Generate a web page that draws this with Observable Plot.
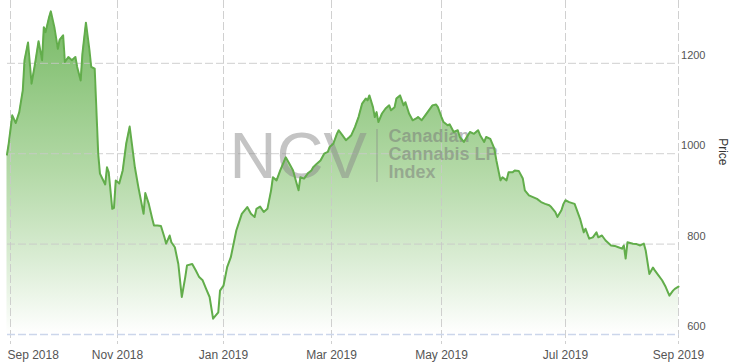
<!DOCTYPE html>
<html>
<head>
<meta charset="utf-8">
<script src="https://cdn.jsdelivr.net/npm/d3@7"></script>
<script src="https://cdn.jsdelivr.net/npm/@observablehq/plot@0.6"></script>
<style>
  html, body { margin: 0; padding: 0; background: #fff; }
  #chart svg { display: block; }
</style>
</head>
<body>
<div id="chart"></div>
<script>
// ---- Data ----
const dates = [
  "2018-08-30","2018-08-31","2018-09-02","2018-09-04","2018-09-06","2018-09-08","2018-09-09","2018-09-11","2018-09-13","2018-09-15",
  "2018-09-17","2018-09-19","2018-09-20","2018-09-21","2018-09-23","2018-09-24","2018-09-26","2018-09-28","2018-09-29","2018-10-01",
  "2018-10-02","2018-10-04","2018-10-06","2018-10-08","2018-10-09","2018-10-11","2018-10-12","2018-10-14","2018-10-16","2018-10-17",
  "2018-10-19","2018-10-21","2018-10-22","2018-10-25","2018-10-26","2018-10-27","2018-10-29","2018-10-30","2018-10-31","2018-11-02",
  "2018-11-04","2018-11-06","2018-11-08","2018-11-09","2018-11-11","2018-11-13","2018-11-16","2018-11-17","2018-11-19","2018-11-21",
  "2018-11-22","2018-11-24","2018-11-26","2018-11-28","2018-11-29","2018-12-01","2018-12-02","2018-12-04","2018-12-06","2018-12-08",
  "2018-12-10","2018-12-11","2018-12-14","2018-12-16","2018-12-18","2018-12-20","2018-12-22","2018-12-24","2018-12-26","2018-12-29",
  "2018-12-30","2019-01-01","2019-01-03","2019-01-05","2019-01-08","2019-01-11","2019-01-14","2019-01-16","2019-01-18","2019-01-19",
  "2019-01-21","2019-01-23","2019-01-25","2019-01-27","2019-01-28","2019-01-30","2019-02-01","2019-02-04","2019-02-06","2019-02-08",
  "2019-02-09","2019-02-11","2019-02-12","2019-02-14","2019-02-16","2019-02-18","2019-02-19","2019-02-21","2019-02-23","2019-02-25",
  "2019-02-27","2019-02-28","2019-03-02","2019-03-04","2019-03-05","2019-03-07","2019-03-09","2019-03-11","2019-03-12","2019-03-14",
  "2019-03-16","2019-03-18","2019-03-20","2019-03-21","2019-03-22","2019-03-24","2019-03-25","2019-03-26","2019-03-27","2019-03-29",
  "2019-03-31","2019-04-02","2019-04-03","2019-04-05","2019-04-06","2019-04-08","2019-04-10","2019-04-11","2019-04-13","2019-04-15",
  "2019-04-17","2019-04-18","2019-04-20","2019-04-22","2019-04-24","2019-04-26","2019-04-28","2019-04-29","2019-05-01","2019-05-02",
  "2019-05-04","2019-05-05","2019-05-07","2019-05-09","2019-05-10","2019-05-12","2019-05-14","2019-05-15","2019-05-17","2019-05-19",
  "2019-05-20","2019-05-22","2019-05-23","2019-05-25","2019-05-27","2019-05-28","2019-05-30","2019-05-31","2019-06-02","2019-06-03",
  "2019-06-05","2019-06-06","2019-06-08","2019-06-10","2019-06-11","2019-06-13","2019-06-15","2019-06-17","2019-06-19","2019-06-21",
  "2019-06-23","2019-06-24","2019-06-26","2019-06-27","2019-06-29","2019-06-30","2019-07-01","2019-07-03","2019-07-06","2019-07-07",
  "2019-07-09","2019-07-11","2019-07-12","2019-07-14","2019-07-16","2019-07-18","2019-07-19","2019-07-21","2019-07-23","2019-07-26",
  "2019-07-28","2019-07-30","2019-08-01","2019-08-02","2019-08-03","2019-08-04","2019-08-07","2019-08-09","2019-08-11","2019-08-13",
  "2019-08-14","2019-08-16","2019-08-18","2019-08-19","2019-08-21","2019-08-23","2019-08-25","2019-08-27","2019-08-29","2019-08-30",
  "2019-09-01"
];
const prices = [
  998,1023,1085,1068,1092,1140,1207,1246,1155,1199,
  1249,1207,1280,1269,1302,1315,1280,1232,1252,1262,
  1203,1214,1207,1214,1192,1162,1221,1290,1229,1192,
  1188,1000,956,932,970,959,878,880,941,934,
  963,1022,1060,1030,970,926,867,913,889,856,
  841,841,840,815,801,819,804,793,756,683,
  727,753,756,742,727,720,701,683,635,649,
  697,708,749,771,830,867,882,867,860,878,
  883,871,878,919,948,941,963,992,978,963,
  948,919,948,945,956,963,970,978,985,1000,
  1004,1015,1022,1044,1052,1041,1030,1037,1041,1059,
  1081,1111,1122,1118,1129,1103,1081,1092,1070,1089,
  1100,1107,1096,1103,1122,1129,1107,1114,1089,1074,
  1078,1081,1074,1085,1096,1107,1109,1103,1081,1070,
  1063,1065,1048,1052,1037,1026,1041,1048,1044,1052,
  1041,1026,1037,1033,1011,985,941,948,941,959,
  959,963,962,945,919,908,904,900,893,889,
  886,882,871,860,875,889,897,893,889,878,
  856,826,834,812,815,826,815,819,808,797,
  796,793,790,797,768,804,801,800,797,801,
  786,734,748,742,731,720,705,686,697,701,
  706
];
const tickDates = ["2018-09-01","2018-11-01","2019-01-01","2019-03-01","2019-05-01","2019-07-01","2019-09-01"];
const tickLabels = ["Sep 2018","Nov 2018","Jan 2019","Mar 2019","May 2019","Jul 2019","Sep 2019"];
const yTicks = [600, 800, 1000, 1200];
const yTitle = "Price";
const logoText = "NCV";
const logoLines = ["Canadian", "Cannabis LP", "Index"];

// ---- Build tables ----
const data = dates.map((d, i) => ({date: new Date(d), price: prices[i]}));
const ticks = tickDates.map((d, i) => ({date: new Date(d), label: tickLabels[i]}));
const logoName = logoLines.join("\n");

const W = 737, H = 363;
const font = "'Liberation Sans', Arial, Helvetica, sans-serif";

// gradient defs (decoration)
const decor = (index, scales, values, dims) => {
  const ns = "http://www.w3.org/2000/svg";
  const g = document.createElementNS(ns, "g");
  const defs = document.createElementNS(ns, "defs");
  const lg = document.createElementNS(ns, "linearGradient");
  lg.setAttribute("id", "ncvGrad");
  lg.setAttribute("gradientUnits", "userSpaceOnUse");
  lg.setAttribute("x1", 0); lg.setAttribute("x2", 0);
  lg.setAttribute("y1", dims.marginTop);
  lg.setAttribute("y2", scales.y ? scales.y(600) : 334);
  [[0, "#6ab356", 0.95], [0.5, "#a9d49b", 0.9], [1, "#ffffff", 1]].forEach(([o, c, op]) => {
    const s = document.createElementNS(ns, "stop");
    s.setAttribute("offset", o); s.setAttribute("stop-color", c); s.setAttribute("stop-opacity", op);
    lg.appendChild(s);
  });
  defs.appendChild(lg);
  g.appendChild(defs);
  return g;
};
// thin separator line of the watermark logo
const separator = (index, scales, values, dims) => {
  const ns = "http://www.w3.org/2000/svg";
  const l = document.createElementNS(ns, "line");
  const x0 = dims.marginLeft + 370;
  l.setAttribute("x1", x0); l.setAttribute("x2", x0);
  l.setAttribute("y1", dims.marginTop + 129); l.setAttribute("y2", dims.marginTop + 182);
  l.setAttribute("stroke", "#888"); l.setAttribute("stroke-opacity", 0.45); l.setAttribute("stroke-width", 1.5);
  return l;
};

const chart = Plot.plot({
  width: W,
  height: H,
  marginLeft: 7,
  marginRight: 58,
  marginTop: 0,
  marginBottom: 19,
  style: {fontFamily: font, background: "#fff", overflow: "visible"},
  x: {type: "utc", domain: ticks.map(t => t.date), range: [10, 117, 223, 331, 441, 565, 678], axis: null},
  y: {domain: [600, 1339], range: [334, 0], axis: null},
  marks: [
    decor,
    Plot.areaY(data, {x: "date", y1: 600, y2: "price", fill: "url(#ncvGrad)", curve: "linear"}),
    Plot.ruleY(yTicks.slice(1), {stroke: "#c8c8c8", strokeOpacity: 0.85, strokeDasharray: "8,3"}),
    Plot.ruleX(ticks, {x: "date", stroke: "#c8c8c8", strokeOpacity: 0.85, strokeDasharray: "8,3"}),
    Plot.ruleY([600], {stroke: "#ccd6eb", strokeWidth: 1.5, strokeDasharray: "8,3"}),
    Plot.text([logoText], {text: d => d, frameAnchor: "top-left", textAnchor: "start", lineAnchor: "bottom",
      dx: 222, dy: 177, fontSize: 65, fill: "#8a8a8a", fillOpacity: 0.5}),
    separator,
    Plot.text([logoName], {text: d => d, frameAnchor: "top-left", textAnchor: "start", lineAnchor: "bottom",
      dx: 381, dy: 177, fontSize: 18, fontWeight: "bold", lineHeight: 1.0, fill: "#777", fillOpacity: 0.5}),
    Plot.lineY(data, {x: "date", y: "price", stroke: "#62ad4b", strokeWidth: 2, curve: "linear"}),
    Plot.text(ticks.slice(0, 1), {x: "date", text: "label", frameAnchor: "bottom", lineAnchor: "bottom",
      textAnchor: "start", dx: -3, dy: 14, fontSize: 12, fill: "#555"}),
    Plot.text(ticks.slice(1), {x: "date", text: "label", frameAnchor: "bottom", lineAnchor: "bottom",
      dy: 14, fontSize: 12, fill: "#555"}),
    Plot.text(yTicks, {y: d => d, text: d => String(d), frameAnchor: "right", textAnchor: "end",
      dx: 26, dy: -8, fontSize: 11, fill: "#555"}),
    Plot.text([yTitle], {text: d => d, frameAnchor: "right", rotate: 90, dx: 43, dy: -7, fontSize: 12, fill: "#333"})
  ]
});

document.getElementById("chart").appendChild(chart);
</script>
</body>
</html>
